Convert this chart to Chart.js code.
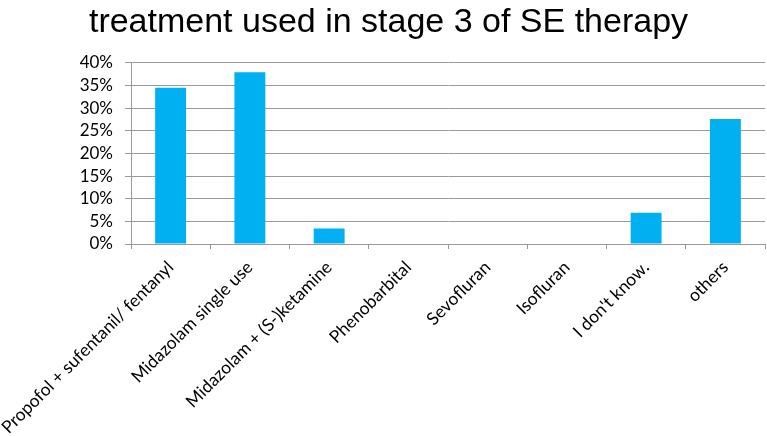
<!DOCTYPE html>
<html>
<head>
<meta charset="utf-8">
<script src="https://cdn.jsdelivr.net/npm/chart.js@4.4.0/dist/chart.umd.min.js"></script>
<style>
  html, body { margin: 0; padding: 0; background: #fff; }
  #wrap { width: 767px; height: 436px; position: relative; }
</style>
</head>
<body>
<div id="wrap"><canvas id="grafico"></canvas></div>
<script>
const titulo = 'treatment used in stage 3 of SE therapy';
const categorias = [
  'Propofol + sufentanil/ fentanyl',
  'Midazolam single use',
  'Midazolam + (S-)ketamine',
  'Phenobarbital',
  'Sevofluran',
  'Isofluran',
  "I don't know.",
  'others'
];
const valores = [34.5, 37.9, 3.4, 0, 0, 0, 6.9, 27.6];
const yMax = 40;
const yPasso = 5;

new Chart(document.getElementById('grafico'), {
  type: 'bar',
  data: {
    labels: categorias,
    datasets: [{
      data: valores,
      backgroundColor: '#00B0F0',
      barPercentage: 0.39,
      categoryPercentage: 1
    }]
  },
  options: {
    responsive: true,
    maintainAspectRatio: false,
    animation: false,
    layout: { padding: { top: 0, right: 2, left: 12, bottom: 0 } },
    plugins: {
      legend: { display: false },
      tooltip: { enabled: false },
      title: {
        display: true,
        text: titulo,
        color: '#000',
        font: { family: 'Liberation Sans', size: 34, weight: 'normal' },
        padding: { top: 2, bottom: 20 }
      }
    },
    scales: {
      x: {
        afterFit: s => { s.height = 192; s.paddingLeft = 0; s.paddingRight = 0; },
        grid: {
          offset: true,
          drawOnChartArea: false,
          drawTicks: true,
          tickLength: 5,
          color: '#9a9a9a'
        },
        border: { color: '#9a9a9a' },
        ticks: {
          color: '#000',
          autoSkip: false,
          maxRotation: 45,
          minRotation: 45,
          padding: 8,
          font: { family: 'Lato', size: 17.5 }
        }
      },
      y: {
        min: 0,
        max: yMax,
        afterFit: s => { s.width = 119; },
        grid: { color: '#9a9a9a', tickLength: 6 },
        border: { color: '#9a9a9a' },
        ticks: {
          stepSize: yPasso,
          autoSkip: false,
          color: '#000',
          padding: 12,
          font: { family: 'Lato', size: 17 },
          callback: v => v + '%'
        }
      }
    }
  }
});
</script>
</body>
</html>
